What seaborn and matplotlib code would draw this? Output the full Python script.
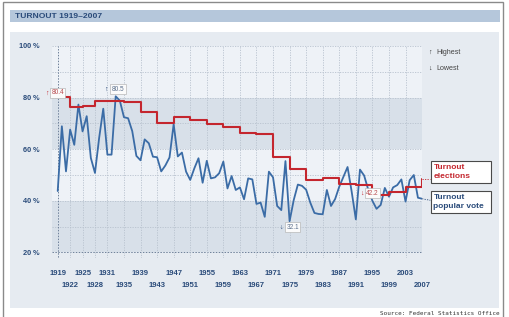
import matplotlib
matplotlib.use("Agg")
import matplotlib.pyplot as plt
import numpy as np
import pandas as pd
import seaborn as sns
from matplotlib.patches import Rectangle

# --- data -------------------------------------------------------------
election_years = [1919, 1922, 1925, 1928, 1931, 1935, 1939, 1943, 1947, 1951, 1955, 1959,
                  1963, 1967, 1971, 1975, 1979, 1983, 1987, 1991, 1995, 1999, 2003, 2007]
election_turnout = [80.4, 76.4, 76.8, 78.8, 78.8, 78.3, 74.3, 70.0, 72.4, 71.2, 69.9, 68.5,
                    66.1, 65.7, 56.9, 52.4, 48.1, 48.9, 46.5, 46.0, 42.2, 43.3, 45.2, 48.3]

vote_years = list(range(1919, 2008))
vote_turnout = [
    43.8, 68.9, 51.4, 67.6, 61.7, 77.3, 66.9, 72.8, 56.6, 50.8,   # 1919-1928
    64.3, 75.7, 57.9, 57.9, 80.5, 78.8, 72.4, 72.0, 67.0, 57.4,   # 1929-1938
    55.7, 63.8, 62.3, 57.1, 56.9, 51.4, 53.7, 56.8, 69.7, 57.2,   # 1939-1948
    58.7, 51.3, 48.1, 52.6, 56.5, 47.0, 55.5, 48.7, 49.1, 50.7,   # 1949-1958
    55.2, 44.8, 49.6, 44.2, 45.2, 40.6, 48.7, 48.3, 38.8, 39.3,   # 1959-1968
    33.8, 51.3, 49.1, 38.0, 36.4, 55.4, 32.1, 40.3, 46.3, 45.8,   # 1969-1978
    44.3, 39.3, 35.3, 34.9, 34.8, 44.2, 38.0, 40.7, 45.5, 49.3,   # 1979-1988
    53.1, 43.5, 32.8, 52.1, 49.8, 44.3, 40.0, 36.9, 38.4, 45.0,   # 1989-1998
    41.6, 45.2, 46.1, 48.3, 39.7, 48.0, 50.0, 41.2, 40.8,         # 1999-2007
]

y_ticks = [20, 40, 60, 80, 100]

# --- colours ----------------------------------------------------------
RED = "#c4262e"
BLUE = "#3b6ca6"
NAVY = "#2a4b7a"
PANEL = "#e6ebf1"
BAND_LIGHT = "#eef2f7"
BAND_DARK = "#d8e0e9"

sns.set_theme(style="white")
plt.rcParams["font.family"] = ["Liberation Sans", "DejaVu Sans"]

W, H = 510, 317
fig = plt.figure(figsize=(W / 100, H / 100), dpi=100)
fig.patch.set_facecolor("white")


def px_rect(x0, y0, x1, y1, **kw):
    fig.patches.append(Rectangle((x0 / W, 1 - y1 / H), (x1 - x0) / W, (y1 - y0) / H,
                                 transform=fig.transFigure, **kw))


def px_text(x, y, s, **kw):
    fig.text(x / W, 1 - y / H, s, **kw)


# frame, title band, panel
px_rect(3, 2, 503, 320, fc="white", ec="#8a8a8a", lw=1.0, zorder=-10)
px_rect(10, 10, 500, 22, fc="#b5c7db", ec="none", zorder=-9)
px_rect(10, 32, 499, 308, fc=PANEL, ec="none", zorder=-9)
px_text(15, 16.5, "TURNOUT 1919\u20132007", fontsize=6.1, fontweight="bold", color=NAVY,
        va="center", ha="left")

# axes: 1919 -> x 57.7 px, 4.14 px per year; 100 % -> y 46 px, 2.58 px per %
ax = fig.add_axes([52 / W, 1 - 257.6 / H, 370.5 / W, 212.4 / H])
ax.set_facecolor("none")
for s in ax.spines.values():
    s.set_visible(False)
ax.set_xlim(1917.62, 2007.1)
ax.set_ylim(18.0, 100.3)

for lo in [20, 40, 60, 80]:
    ax.axhspan(lo, lo + 20, color=BAND_DARK if lo in (20, 60) else BAND_LIGHT, lw=0, zorder=0)

for v in range(30, 101, 10):
    ax.axhline(v, color="#b8c2ce", lw=0.6, ls=(0, (1.5, 1.5)), zorder=1)
ax.axhline(20, color="#6f819a", lw=0.7, ls=(0, (1.5, 1.5)), zorder=1)
ax.vlines(election_years[1:], 18, 100, color="#b8c2ce", lw=0.6, ls=(0, (1.5, 1.5)), zorder=1)
ax.vlines(election_years[0], 17, 100, color="#6f819a", lw=0.7, ls=(0, (1.5, 1.5)), zorder=1)

votes = pd.DataFrame({"year": vote_years, "turnout": vote_turnout})
elections = pd.DataFrame({"year": election_years, "turnout": election_turnout})

sns.lineplot(data=votes, x="year", y="turnout", ax=ax, color=BLUE, lw=1.3, zorder=3)
sns.lineplot(data=elections, x="year", y="turnout", ax=ax, color=RED, lw=1.5,
             drawstyle="steps-post", zorder=4)

# ticks: two staggered rows of year labels
ax.set_yticks(y_ticks)
ax.set_yticklabels([f"{v} %" for v in y_ticks])
ax.set_xticks(election_years[::2])
ax.set_xticklabels([str(y) for y in election_years[::2]])
ax.set_xticks(election_years[1::2], minor=True)
ax.set_xticklabels([str(y) for y in election_years[1::2]], minor=True)
ax.tick_params(axis="x", which="major", length=0, pad=9, labelsize=5.5, labelcolor=NAVY)
ax.tick_params(axis="x", which="minor", length=0, pad=17.4, labelsize=5.5, labelcolor=NAVY)
ax.tick_params(axis="y", length=0, pad=8.6, labelsize=5.3, labelcolor=NAVY)
for lab in (ax.get_xticklabels() + ax.get_xticklabels(minor=True) + ax.get_yticklabels()):
    lab.set_fontweight("bold")
ax.set_xlabel("")
ax.set_ylabel("")


def mark(x, y, txt, arrow, color, num_color, dx, dy, adx):
    ax.annotate(txt, (x, y), xytext=(dx * 0.72, dy * 0.72), textcoords="offset points",
                ha="center", va="center", fontsize=4.7, color=num_color, zorder=6,
                bbox=dict(boxstyle="square,pad=0.2", fc="#fbfbfb", ec="#b8b8b8", lw=0.5))
    ax.annotate(arrow, (x, y), xytext=(adx * 0.72, dy * 0.72), textcoords="offset points",
                ha="center", va="center", fontsize=5, color=color, zorder=6)


i = int(np.argmax(election_turnout))
mark(election_years[i], election_turnout[i], f"{election_turnout[i]:.1f}", "\u2191", RED, "#b84a4f", 0, 3.6, -10.5)
i = int(np.argmin(election_turnout))
mark(election_years[i], election_turnout[i], f"{election_turnout[i]:.1f}", "\u2193", RED, "#b84a4f", 0, 2, -10.5)
i = int(np.argmax(vote_turnout))
mark(vote_years[i], vote_turnout[i], f"{vote_turnout[i]:.1f}", "\u2191", NAVY, "#5a6f8c", 2.3, 7, -9.7)
i = int(np.argmin(vote_turnout))
mark(vote_years[i], vote_turnout[i], f"{vote_turnout[i]:.1f}", "\u2193", NAVY, "#5a6f8c", 3, -6, -8.5)

# connectors from line ends to the series labels
ax.plot([election_years[-1], election_years[-1] + 2.0], [election_turnout[-1]] * 2,
        color=RED, lw=0.6, ls=(0, (1.5, 1.5)), clip_on=False, zorder=2)
ax.plot([vote_years[-1], vote_years[-1] + 2.0], [vote_turnout[-1], vote_turnout[-1] - 0.6],
        color=NAVY, lw=0.6, ls=(0, (1.5, 1.5)), clip_on=False, zorder=2)

# series label boxes
px_rect(431, 161, 491, 183, fc="white", ec="#4a4a4a", lw=0.8, zorder=-5)
px_text(433.5, 172, "Turnout\nelections", fontsize=6, fontweight="bold", color=RED,
        va="center", ha="left", linespacing=1.25)
px_rect(431, 191, 491, 213, fc="white", ec="#4a4a4a", lw=0.8, zorder=-5)
px_text(433.5, 202, "Turnout\npopular vote", fontsize=6, fontweight="bold", color=NAVY,
        va="center", ha="left", linespacing=1.25)

# legend for markers
px_text(428, 52, "\u2191", fontsize=5.2, color="#333333", va="center", ha="left")
px_text(436, 52, "Highest", fontsize=5.1, color="#444444", va="center", ha="left")
px_text(428, 68, "\u2193", fontsize=5.2, color="#333333", va="center", ha="left")
px_text(436, 68, "Lowest", fontsize=5.1, color="#444444", va="center", ha="left")

px_text(500, 313.5, "Source: Federal Statistics Office", fontsize=4.3, color="#333333",
        family=["DejaVu Sans Mono"], va="center", ha="right")

fig.savefig("out.png", dpi=100)
